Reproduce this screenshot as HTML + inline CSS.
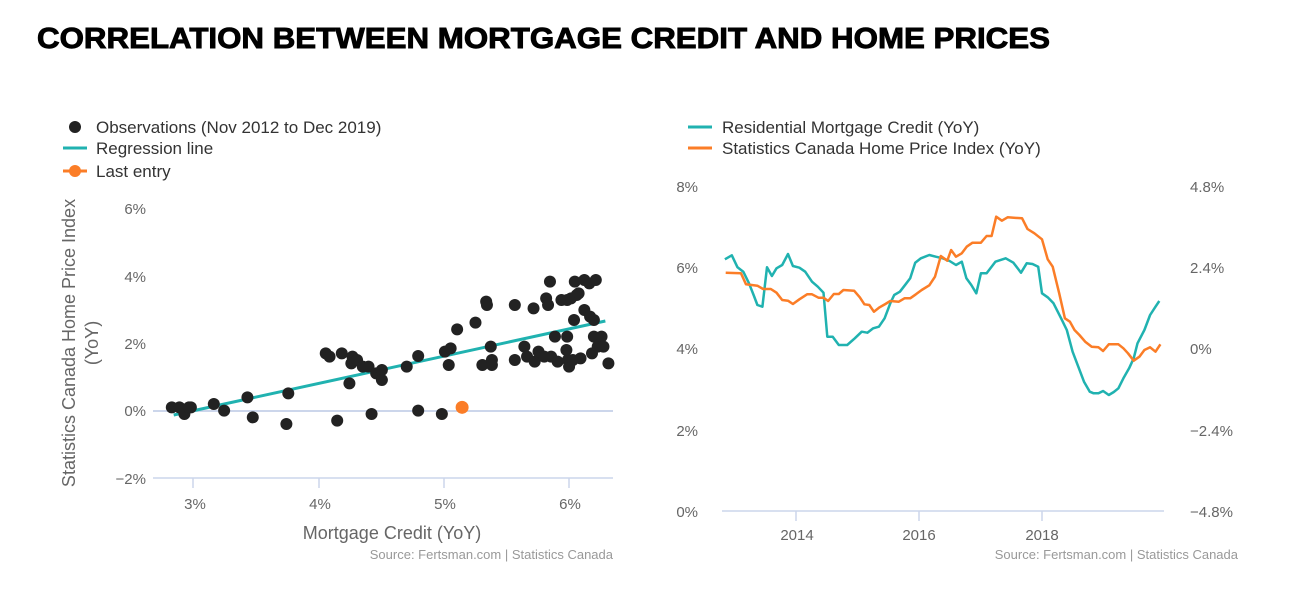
<!DOCTYPE html>
<html><head><meta charset="utf-8"><style>
html,body{margin:0;padding:0;background:#fff;}
svg{display:block;font-family:"Liberation Sans","DejaVu Sans",sans-serif;}
</style></head><body>
<svg id="s" width="1300" height="602" viewBox="0 0 1300 602" xmlns="http://www.w3.org/2000/svg">
<text x="37" y="48" font-size="29" font-weight="bold" fill="#000" stroke="#000" stroke-width="0.9" textLength="1013" lengthAdjust="spacingAndGlyphs">CORRELATION BETWEEN MORTGAGE CREDIT AND HOME PRICES</text>

<circle cx="75" cy="127" r="6" fill="#222"/>
<text x="96" y="133" font-size="17" fill="#333">Observations (Nov 2012 to Dec 2019)</text>
<line x1="63" y1="148" x2="87" y2="148" stroke="#20b2b0" stroke-width="3"/>
<text x="96" y="154" font-size="17" fill="#333">Regression line</text>
<line x1="63" y1="171" x2="87" y2="171" stroke="#fb7d27" stroke-width="3"/>
<circle cx="75" cy="171" r="6" fill="#fb7d27"/>
<text x="96" y="177" font-size="17" fill="#333">Last entry</text>

<g font-size="15" fill="#666" text-anchor="end">
<text x="146" y="214">6%</text><text x="146" y="282">4%</text><text x="146" y="349">2%</text><text x="146" y="416">0%</text><text x="146" y="484">−2%</text>
</g>
<line x1="153" y1="411" x2="613" y2="411" stroke="#ccd6eb" stroke-width="2"/>
<line x1="153" y1="478" x2="613" y2="478" stroke="#ccd6eb" stroke-width="1.5"/>
<g stroke="#ccd6eb" stroke-width="1.5"><line x1="193" y1="478" x2="193" y2="488"/><line x1="319" y1="478" x2="319" y2="488"/><line x1="444" y1="478" x2="444" y2="488"/><line x1="569" y1="478" x2="569" y2="488"/></g>
<g font-size="15" fill="#666" text-anchor="middle">
<text x="195" y="509">3%</text><text x="320" y="509">4%</text><text x="445" y="509">5%</text><text x="570" y="509">6%</text>
</g>
<text x="392" y="539" font-size="18" fill="#666" text-anchor="middle">Mortgage Credit (YoY)</text>
<g font-size="18" fill="#666" text-anchor="middle">
<text transform="translate(75,343) rotate(-90)">Statistics Canada Home Price Index</text>
<text transform="translate(98,343) rotate(-90)">(YoY)</text>
</g>
<text x="613" y="559" font-size="13" fill="#999" text-anchor="end">Source: Fertsman.com | Statistics Canada</text>
<g id="dots"></g>

<line x1="688" y1="127" x2="712" y2="127" stroke="#20b2b0" stroke-width="3"/>
<text x="722" y="133" font-size="17" fill="#333">Residential Mortgage Credit (YoY)</text>
<line x1="688" y1="148" x2="712" y2="148" stroke="#fb7d27" stroke-width="3"/>
<text x="722" y="154" font-size="17" fill="#333">Statistics Canada Home Price Index (YoY)</text>

<g font-size="15" fill="#666" text-anchor="end">
<text x="698" y="192">8%</text><text x="698" y="273">6%</text><text x="698" y="354">4%</text><text x="698" y="436">2%</text><text x="698" y="517">0%</text>
</g>
<g font-size="15" fill="#666" text-anchor="start">
<text x="1190" y="192">4.8%</text><text x="1190" y="273">2.4%</text><text x="1190" y="354">0%</text><text x="1190" y="436">−2.4%</text><text x="1190" y="517">−4.8%</text>
</g>
<line x1="722" y1="511" x2="1164" y2="511" stroke="#ccd6eb" stroke-width="1.5"/>
<g stroke="#ccd6eb" stroke-width="1.5"><line x1="796" y1="511" x2="796" y2="521"/><line x1="919" y1="511" x2="919" y2="521"/><line x1="1042" y1="511" x2="1042" y2="521"/></g>
<g font-size="15" fill="#666" text-anchor="middle">
<text x="797" y="540">2014</text><text x="919" y="540">2016</text><text x="1042" y="540">2018</text>
</g>
<text x="1238" y="559" font-size="13" fill="#999" text-anchor="end">Source: Fertsman.com | Statistics Canada</text>
<g id="lines"></g>
</svg>
<script>
var NS="http://www.w3.org/2000/svg";
function L(zx,ox){return ox+zx*0.382;}
var dots=[[345,922],[365,922],[378,942],[390,922],[395,922],[455,912],[482,932],[543,892],[557,952],[650,880],[645,972],[748,760],[758,770],[790,760],[778,962],[810,850],[818,770],[815,790],[830,780],[845,800],[860,800],[868,942],[880,820],[895,810],[895,840],[960,800],[990,768],[990,932],[1052,942],[1060,755],[1070,795],[1075,745],[1092,688],[1140,668],[1158,795],[1168,605],[1170,615],[1180,740],[1183,780],[1183,795],[1243,615],[1243,780],[1268,740],[1275,770],[1292,625],[1295,785],[1305,755],[1325,595],[1330,615],[1335,545],[1338,770],[1348,710],[1365,600],[1378,750],[1380,710],[1380,600],[1382,780],[1385,800],[1390,595],[1395,780],[1398,660],[1400,545],[1405,585],[1410,580],[1415,775],[1425,630],[1425,540],[1438,550],[1440,650],[1445,760],[1450,660],[1450,710],[1455,540],[1460,740],[1470,710],[1475,740],[1488,790],[1355,785],[1320,770]];
var g=document.getElementById("dots");
var ln=document.createElementNS(NS,"line");
ln.setAttribute("x1",L(350,40));ln.setAttribute("y1",100+945/3);ln.setAttribute("x2",L(1480,40));ln.setAttribute("y2",100+663/3);
ln.setAttribute("stroke","#20b2b0");ln.setAttribute("stroke-width","3");g.appendChild(ln);
dots.forEach(function(d){var c=document.createElementNS(NS,"circle");c.setAttribute("cx",L(d[0],40));c.setAttribute("cy",100+d[1]/3);c.setAttribute("r","6");c.setAttribute("fill","#222");g.appendChild(c);});
var c=document.createElementNS(NS,"circle");c.setAttribute("cx",L(1105,40));c.setAttribute("cy",100+922/3);c.setAttribute("r","6.5");c.setAttribute("fill","#fb7d27");g.appendChild(c);
var teal=[[170,478],[188,466],[203,502],[218,515],[233,550],[245,585],[255,615],[268,620],[280,502],[293,528],[305,505],[320,495],[335,462],[348,498],[365,503],[380,515],[398,545],[413,560],[428,578],[438,710],[452,710],[468,735],[490,735],[510,715],[528,695],[543,698],[558,685],[573,680],[588,655],[603,610],[613,585],[628,575],[643,553],[655,535],[668,488],[683,475],[705,465],[722,470],[740,475],[758,483],[775,495],[790,485],[802,535],[815,555],[828,580],[840,520],[855,520],[878,485],[905,475],[925,488],[945,518],[960,490],[975,492],[990,500],[1000,580],[1015,592],[1030,610],[1050,655],[1065,690],[1080,755],[1095,800],[1110,845],[1125,875],[1135,880],[1148,880],[1160,873],[1175,885],[1188,876],[1200,865],[1213,835],[1228,805],[1240,775],[1250,730],[1268,690],[1283,645],[1297,620],[1307,603]];
var orange=[[172,518],[212,520],[225,553],[255,557],[270,567],[290,567],[305,578],[320,600],[335,602],[348,612],[365,598],[385,583],[398,583],[415,593],[428,593],[440,603],[455,582],[468,582],[480,570],[508,572],[523,592],[535,613],[548,615],[560,635],[575,622],[590,612],[603,603],[625,605],[640,595],[655,595],[670,583],[685,570],[705,556],[720,530],[735,468],[752,482],[762,450],[775,470],[790,460],[803,440],[818,428],[840,428],[855,408],[868,408],[880,350],[895,362],[910,352],[948,355],[962,387],[980,400],[1000,418],[1015,478],[1028,500],[1045,580],[1060,655],[1073,665],[1085,690],[1098,705],[1113,725],[1130,740],[1148,742],[1160,753],[1175,733],[1200,733],[1213,745],[1225,760],[1240,782],[1255,770],[1268,750],[1283,742],[1297,755],[1310,733]];
var lg=document.getElementById("lines");
[[teal,"#20b2b0"],[orange,"#fb7d27"]].forEach(function(s){var p=document.createElementNS(NS,"polyline");
p.setAttribute("points",s[0].map(function(d){return L(d[0],660).toFixed(1)+","+(100+d[1]/3).toFixed(1);}).join(" "));
p.setAttribute("fill","none");p.setAttribute("stroke",s[1]);p.setAttribute("stroke-width","2.5");p.setAttribute("stroke-linejoin","round");lg.appendChild(p);});
</script>
</body></html>
